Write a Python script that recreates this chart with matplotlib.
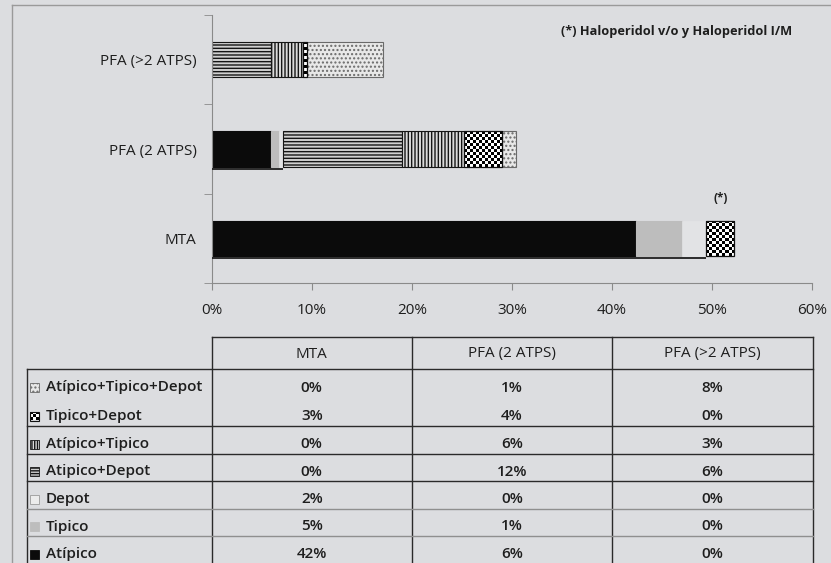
import numpy as np
import matplotlib.pyplot as plt
from matplotlib.patches import Rectangle
from matplotlib.lines import Line2D

plt.rcParams["font.family"] = ["Open Sans", "DejaVu Sans"]
plt.rcParams["hatch.linewidth"] = 1.0

BG = "#dcdde0"
INK = "#1e1e1e"
GRID = "#8a8a8a"

groups = ["MTA", "PFA (2 ATPS)", "PFA (>2 ATPS)"]

# stacked segments, left to right (percent of patients)
series_names = ["Atípico", "Tipico", "Depot", "Atipico+Depot",
                "Atípico+Tipico", "Tipico+Depot", "Atípico+Tipico+Depot"]
atipico = [42.4, 5.9, 0.0]
tipico = [4.6, 0.8, 0.0]
depot = [2.4, 0.45, 0.0]
atip_depot = [0.0, 11.9, 5.9]
atip_tip = [0.0, 6.2, 3.2]
tip_depot = [2.8, 3.8, 0.4]
atip_tip_depot = [0.0, 1.3, 7.6]
series_vals = [atipico, tipico, depot, atip_depot, atip_tip, tip_depot, atip_tip_depot]

x_ticks = [0, 10, 20, 30, 40, 50, 60]

styles = {
    "Atípico": dict(face="#0b0b0b", edge="#0b0b0b", hatch=None, lw=0.8),
    "Tipico": dict(face="#bdbdbd", edge="#bdbdbd", hatch=None, lw=0.8),
    "Depot": dict(face="#e2e3e5", edge="#e2e3e5", hatch=None, lw=0.5),
    "Atipico+Depot": dict(face="#d0d0d0", edge="#151515", hatch="-----", lw=0.8),
    "Atípico+Tipico": dict(face="#dadada", edge="#151515", hatch="|||||", lw=0.8),
    "Tipico+Depot": dict(face="white", edge="#111111", hatch=None, lw=0.8, checker=True),
    "Atípico+Tipico+Depot": dict(face="#e8e8e8", edge="#6a6a6a", hatch="....", lw=0.8),
}
sym_hatch = {"Atipico+Depot": "------", "Atípico+Tipico": "||||||",
             "Atípico+Tipico+Depot": "...."}

BAR_H = 0.40
FS = 11


def checker_fill(ax, rect, cell_px=3):
    # black/white checkerboard clipped to a bar rectangle
    x0, y0 = rect.get_x(), rect.get_y()
    x1, y1 = x0 + rect.get_width(), y0 + rect.get_height()
    p0 = ax.transData.transform((x0, y0))
    p1 = ax.transData.transform((x1, y1))
    nx = max(1, int(round(abs(p1[0] - p0[0]) / cell_px)))
    ny = max(1, int(round(abs(p1[1] - p0[1]) / cell_px)))
    board = (np.add.outer(np.arange(ny), np.arange(nx)) % 2).astype(float)
    im = ax.imshow(board, cmap="gray", extent=(x0, x1, y0, y1), aspect="auto",
                   interpolation="nearest", vmin=0, vmax=1, zorder=rect.get_zorder() - 0.1)
    im.set_clip_path(rect)


fig = plt.figure(figsize=(8.31, 5.63), dpi=100, facecolor=BG)
W, H = 831, 563

ax = fig.add_axes([211.7 / W, 1 - 283.3 / H, (812.3 - 211.7) / W, (283.3 - 14.7) / H])
ax.set_facecolor(BG)
ax.set_xlim(0, 60)
ax.set_ylim(-0.5, 2.5)

y = np.arange(len(groups))
left = np.zeros(len(groups))
for name, vals in zip(series_names, series_vals):
    st = styles[name]
    vals = np.array(vals)
    keep = vals > 0
    if not st.get("checker"):
        ax.barh(y[keep], vals[keep], left=left[keep], height=BAR_H,
                color=st["face"], edgecolor=st["edge"], hatch=st["hatch"],
                linewidth=st["lw"], zorder=2)
    else:
        for yi in y[keep]:
            r = Rectangle((left[yi], yi - BAR_H / 2), vals[yi], BAR_H,
                          facecolor="none", edgecolor=st["edge"], lw=0.9, zorder=4)
            ax.add_patch(r)
            checker_fill(ax, r)
    if name == "Depot":
        # Depot segment: unfilled, underlined from the axis
        for yi, end in zip(y[keep], (left + vals)[keep]):
            ax.hlines(yi - BAR_H / 2 - 0.02, 0, end, color=INK, lw=1.3, zorder=3)
    left = left + vals

ax.set_xlim(0, 60)
ax.set_ylim(-0.5, 2.5)

# (*) marker over the MTA Tipico+Depot segment
mta_td_start = sum(v[0] for v in series_vals[:5])
ax.annotate("(*)", xy=(mta_td_start + tip_depot[0] / 2, 0 + BAR_H / 2),
            xytext=(0, 11), textcoords="offset points", ha="center", va="bottom",
            fontsize=8.5, fontweight="bold", color=INK)

for s in ["top", "right"]:
    ax.spines[s].set_visible(False)
ax.spines["left"].set_color(GRID)
ax.spines["bottom"].set_color(GRID)

ax.set_xticks(x_ticks)
ax.set_xticklabels([f"{t}%" for t in x_ticks], fontsize=FS, color=INK)
ax.tick_params(axis="x", direction="out", length=5, color=GRID, pad=9)
ax.set_yticks(y)
ax.set_yticklabels(groups, fontsize=FS, color=INK)
ax.tick_params(axis="y", length=0, pad=11)
ax.set_yticks([-0.5, 0.5, 1.5, 2.5], minor=True)
ax.tick_params(axis="y", which="minor", direction="out", length=6, color=GRID)

fig.text(677 / W, 1 - 31 / H, "(*) Haloperidol v/o y Haloperidol I/M",
         ha="center", va="center", fontsize=9.2, fontweight="bold", color=INK)

# outer frame of the chart area
fig.add_artist(Line2D([12 / W, 1], [1 - 5 / H, 1 - 5 / H], color="#9a9a9a", lw=1))
fig.add_artist(Line2D([12 / W, 12 / W], [0, 1 - 5 / H], color="#9a9a9a", lw=1))

# data table below the chart
tax = fig.add_axes([0, 0, 1, 1])
tax.set_xlim(0, W)
tax.set_ylim(H, 0)
tax.axis("off")

col_x = [27, 211.5, 412, 612, 812.5]
row_y = [369, 398, 426, 454, 481, 509, 536, 564]
line_kw = dict(color="#2a2a2a", lw=1.0)

tax.plot([col_x[1], col_x[-1]], [337, 337], **line_kw)
tax.plot([col_x[0], col_x[-1]], [369, 369], **line_kw)
for cx in col_x[1:]:
    tax.plot([cx, cx], [337, H], **line_kw)
tax.plot([col_x[0], col_x[0]], [369, H], **line_kw)
for ry in row_y[2:5]:
    tax.plot([col_x[0], col_x[-1]], [ry, ry], **line_kw)
for ry in row_y[5:7]:
    tax.plot([col_x[0], col_x[-1]], [ry, ry], color="#8f8f8f", lw=1.0)

for j, g in enumerate(groups):
    tax.text((col_x[j + 1] + col_x[j + 2]) / 2, 354, g, ha="center", va="center",
             fontsize=FS, color=INK)

table_order = series_names[::-1]
table_vals = series_vals[::-1]
for i, (name, vals) in enumerate(zip(table_order, table_vals)):
    yc = (row_y[i] + row_y[i + 1]) / 2 + 4
    st = styles[name]
    if st.get("checker"):
        r = Rectangle((30, yc - 4.5), 9, 9, facecolor="none", edgecolor="#111111", lw=0.8)
        tax.add_patch(r)
        board = (np.add.outer(np.arange(3), np.arange(3)) % 2).astype(float)
        im = tax.imshow(board, cmap="gray", extent=(30, 39, yc + 4.5, yc - 4.5),
                        aspect="auto", interpolation="nearest", vmin=0, vmax=1)
        im.set_clip_path(r)
    else:
        face = st["face"] if name != "Depot" else "#ececec"
        edge = st["edge"] if name != "Depot" else "#9a9a9a"
        tax.add_patch(Rectangle((30, yc - 4.5), 9, 9, facecolor=face, edgecolor=edge,
                                hatch=sym_hatch.get(name), lw=0.6))
    tax.text(46, yc, name, ha="left", va="center", fontsize=FS,
             fontweight="semibold", color=INK)
    for j, v in enumerate(vals):
        tax.text((col_x[j + 1] + col_x[j + 2]) / 2, yc, f"{v:.0f}%", ha="center",
                 va="center", fontsize=FS, fontweight="semibold", color=INK)
tax.set_xlim(0, W)
tax.set_ylim(H, 0)

fig.savefig("out.png", dpi=100, facecolor=BG)
